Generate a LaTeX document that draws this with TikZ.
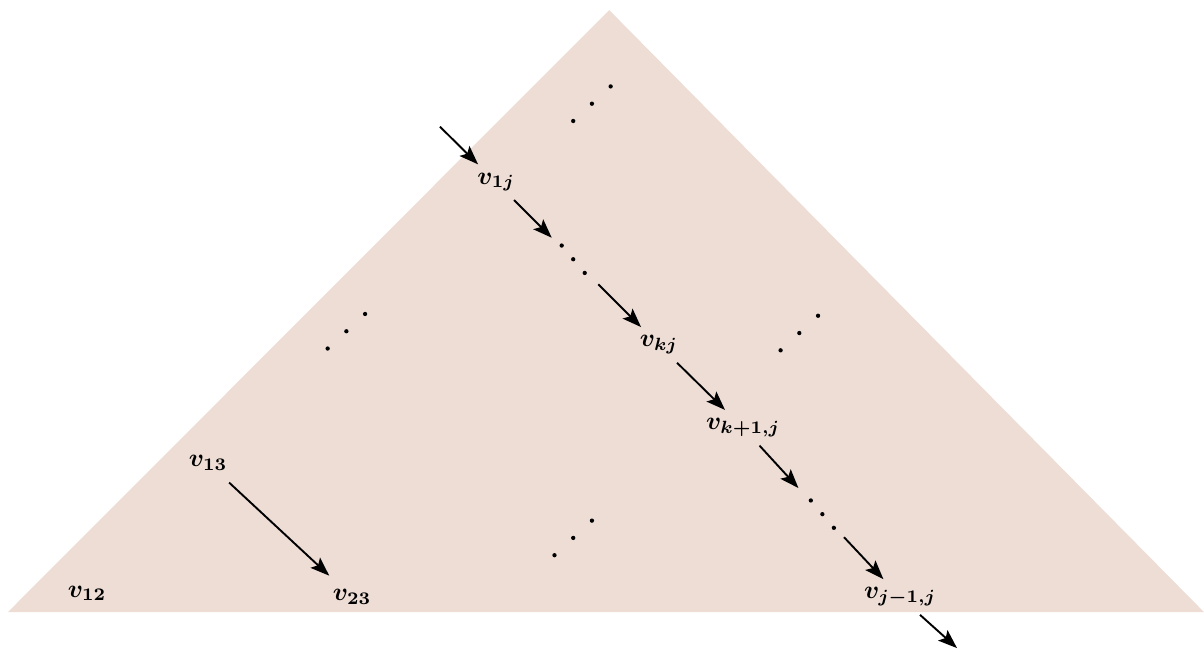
\documentclass[tikz,border=0pt]{standalone}
\usepackage{bm}
\usetikzlibrary{arrows.meta, positioning}
\definecolor{cbeige}{HTML}{EDDDD5}
\tikzset{
  every picture/.style={line width=0.8pt},
  lbl/.style={inner sep=3pt},
  arrow/.style={-{Stealth[length=7.5pt, width=5.5pt, inset=1.5pt]}, draw=black, line width=0.75pt},
}

\begin{document}
\begin{tikzpicture}
  \useasboundingbox (0,0) rectangle (16.72,9);
  \fill[cbeige] (0.11,0.5) -- (8.46,8.86) -- (16.72,0.5) -- cycle;
  % entries
  \node[lbl] (v1j) at (6.89,6.47) {$\bm{v_{1j}}$};
  \node[lbl] (vkj) at (9.15,4.21) {$\bm{v_{kj}}$};
  \node[lbl] (vk1j) at (10.32,3.06) {$\bm{v_{k+1,j}}$};
  \node[lbl] (vj1j) at (12.5,0.71) {$\bm{v_{j-1,j}}$};
  \node[lbl] (v13) at (2.89,2.57) {$\bm{v_{13}}$};
  \node[lbl] (v12) at (1.21,0.76) {$\bm{v_{12}}$};
  \node[lbl] (v23) at (4.89,0.71) {$\bm{v_{23}}$};
  \coordinate (in) at (6.11,7.24);
  \coordinate (out) at (13.29,0);
  % dots
  \coordinate (dd1) at (7.96,5.40);
  \coordinate (dd2) at (11.42,1.86);
  \foreach \c in {dd1, dd2}
    \foreach \i in {-1,0,1} \fill[shift={(\c)}] (\i*0.16,-\i*0.19) circle (0.85pt);
  \foreach \x/\y [count=\k] in {8.22/7.56, 4.81/4.40, 11.10/4.375, 7.96/1.53} {
    \coordinate (id\k) at (\x,\y);
    \foreach \i in {-1,0,1} \fill[shift={(id\k)}] (\i*0.26,\i*0.24) circle (0.85pt);
  }
  % arrows
  \draw[arrow] (in) -- (v1j);
  \draw[arrow, shorten >=12pt] (v1j) -- (dd1);
  \draw[arrow, shorten <=14pt] (dd1) -- (vkj);
  \draw[arrow] (vkj) -- (vk1j);
  \draw[arrow, shorten >=14pt] (vk1j) -- (dd2);
  \draw[arrow, shorten <=12.5pt] (dd2) -- (vj1j);
  \draw[arrow] (vj1j) -- (out);
  \draw[arrow, shorten <=2pt, shorten >=3pt] (v13) -- (v23);
\end{tikzpicture}
\end{document}
